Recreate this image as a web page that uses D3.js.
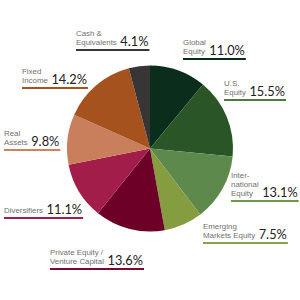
<!DOCTYPE html>
<html><head><meta charset="utf-8">
<script src="https://cdn.jsdelivr.net/npm/d3@7"></script>
<style>body{margin:0;background:#fff}svg{display:block}</style>
</head><body>
<svg id="c" width="300" height="300"></svg>
<script>
const categories = ["Global Equity","U.S. Equity","International Equity","Emerging Markets Equity","Private Equity / Venture Capital","Diversifiers","Real Assets","Fixed Income","Cash & Equivalents"];
const values = [11.0, 15.5, 13.1, 7.5, 13.6, 11.1, 9.8, 14.2, 4.1];
const valueLabels = ["11.0%","15.5%","13.1%","7.5%","13.6%","11.1%","9.8%","14.2%","4.1%"];
const labelLines = [["Global","Equity"],["U.S.","Equity"],["Inter-","national","Equity"],["Emerging","Markets Equity"],["Private Equity /","Venture Capital"],["Diversifiers"],["Real","Assets"],["Fixed","Income"],["Cash &","Equivalents"]];
const colors = ["#0b2e1c","#2a5627","#5e894c","#869c41","#6c0026","#a31d4b","#c97e5c","#a6521f","#373535"];
const lineColors = ["#0b2e1c","#4c7a3c","#6e9a50","#8aa046","#7a0a30","#a31d4b","#d0825e","#a6521f","#373535"];
// label anchor (left x, baseline y of last line)
const labelPos = [[183,54],[224,95],[231,196],[203,238],[50,264],[4,213],[4,145],[22,83],[76,45]];

const svg = d3.select("#c");
const cx = 150, cy = 148.5, r = 83;
const pie = d3.pie().sort(null).value(d => d)(values);
const arc = d3.arc().innerRadius(0).outerRadius(r);
svg.append("g").attr("transform", `translate(${cx},${cy})`)
  .selectAll("path").data(pie).join("path")
  .attr("d", arc).attr("fill", (d,i) => colors[i]);

const lh = 9;
labelLines.forEach((lines, i) => {
  const [x, y] = labelPos[i];
  const g = svg.append("g");
  const tx = g.append("text")
    .attr("font-family", "'Liberation Sans', Arial, sans-serif").attr("font-size", 7.9)
    .attr("fill", "#707070");
  let maxW = 0;
  lines.forEach((t, j) => {
    const ts = tx.append("tspan").attr("x", x).attr("y", y - (lines.length - 1 - j) * lh).text(t);
    maxW = Math.max(maxW, ts.node().getComputedTextLength());
  });
  const num = g.append("text").attr("x", x + maxW + 3.5).attr("y", y + 1)
    .attr("font-family", "Lato, 'Noto Sans', sans-serif").attr("font-size", 12.8)
    .attr("fill", "#222").text(valueLabels[i]);
  const nw = num.node().getComputedTextLength();
  g.append("line").attr("x1", x).attr("x2", x + maxW + 3.5 + nw + 1)
    .attr("y1", y + 5).attr("y2", y + 5)
    .attr("stroke", lineColors[i]).attr("stroke-width", 2);
});
</script>
</body></html>
